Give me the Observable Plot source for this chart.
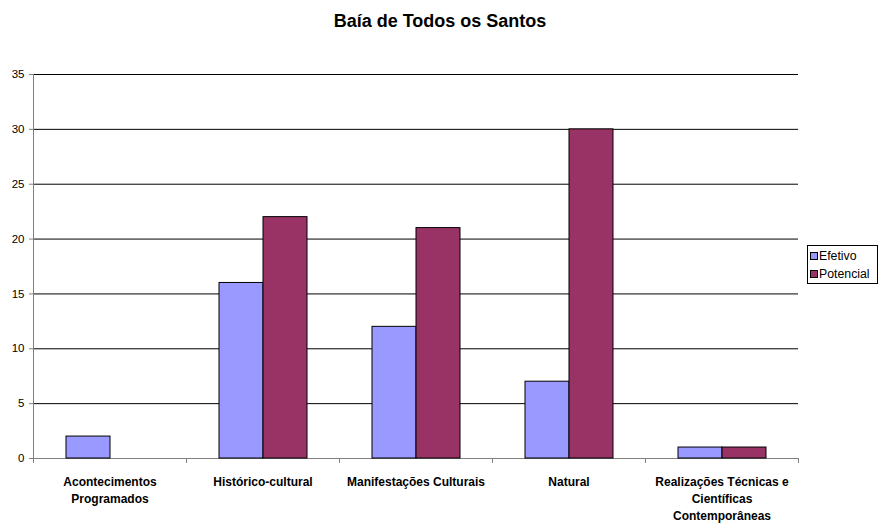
<!DOCTYPE html>
<html>
<head>
<meta charset="utf-8">
<script src="https://cdn.jsdelivr.net/npm/d3@7"></script>
<script src="https://cdn.jsdelivr.net/npm/@observablehq/plot@0.6"></script>
<style>
  body { margin: 0; background: #fff; }
  #wrap { position: relative; width: 880px; height: 523px; font-family: "Liberation Sans", Arial, sans-serif; }
  #title { height: 48px; padding-top: 12px; line-height: 18px; font-size: 18px; font-weight: bold; text-align: center; color: #000; }
  #legend { position: absolute; left: 807px; top: 245px; width: 69px; height: 37px; border: 1px solid #000; background: #fff; font-size: 12.3px; }
  .item { position: absolute; left: 2px; height: 14px; line-height: 14px; white-space: nowrap; }
  .sw { position: absolute; left: 0; top: 3.5px; width: 6px; height: 6px; border: 1px solid #000; }
  .lab { position: absolute; left: 9px; top: 0; }
  g[aria-label^="y-axis"] line, g[aria-label^="y-axis"] path { stroke: #808080; }
</style>
</head>
<body>
<div id="wrap">
  <div id="title">Baía de Todos os Santos</div>
  <div id="chart"></div>
  <div id="legend"></div>
</div>
<script>
const categories = ["Acontecimentos Programados", "Histórico-cultural", "Manifestações Culturais", "Natural", "Realizações Técnicas e Científicas Contemporâneas"];
const xLabels = ["Acontecimentos\nProgramados", "Histórico-cultural", "Manifestações Culturais", "Natural", "Realizações Técnicas e\nCientíficas\nContemporâneas"];
const seriesNames = ["Efetivo", "Potencial"];
const efetivo = [2, 16, 12, 7, 1];
const potencial = [0, 22, 21, 30, 1];
const yTicks = [0, 5, 10, 15, 20, 25, 30, 35];
const colors = ["#9999FF", "#993366"];

const W = 880, H = 463, mL = 33, mR = 82, mT = 14, mB = 65;
const band = (W - mL - mR) / categories.length;
const barW = 44;
const outer = Math.round((band - 2 * barW) / 2);

const effRows = categories.map((c, i) => ({category: c, value: efetivo[i]})).filter(d => d.value > 0);
const potRows = categories.map((c, i) => ({category: c, value: potencial[i]})).filter(d => d.value > 0);

const chart = Plot.plot({
  width: W, height: H,
  marginTop: mT, marginBottom: mB, marginLeft: mL, marginRight: mR,
  style: {fontFamily: "'Liberation Sans', Arial, sans-serif", fontSize: "11.5px", color: "#000", background: "#fff"},
  x: {domain: categories, padding: 0, axis: null},
  y: {domain: [yTicks[0], yTicks[yTicks.length - 1]], ticks: yTicks.length - 1, tickSize: 4, tickPadding: 5, label: null},
  marks: [
    Plot.ruleY(yTicks.filter(v => v > 0), {stroke: "#000", strokeWidth: 1}),
    Plot.ruleY([0], {stroke: "#808080"}),
    Plot.ruleX([categories[0]], {x: d => d, y1: yTicks[0], y2: yTicks[yTicks.length - 1], dx: -band / 2, stroke: "#808080"}),
    Plot.ruleX(categories, {x: d => d, y1: 0, y2: -0.45, dx: -band / 2, stroke: "#808080"}),
    Plot.ruleX([categories[categories.length - 1]], {x: d => d, y1: 0, y2: -0.45, dx: band / 2, stroke: "#808080"}),
    Plot.barY(effRows, {x: "category", y: "value", fill: colors[0], stroke: "#000", insetLeft: outer, insetRight: band - outer - barW}),
    Plot.barY(potRows, {x: "category", y: "value", fill: colors[1], stroke: "#000", insetLeft: outer + barW, insetRight: band - outer - 2 * barW}),
    Plot.text(categories, {x: d => d, y: d => 0, text: (d, i) => xLabels[i], lineAnchor: "top", dy: 16, fontSize: 12, fontWeight: "bold", lineHeight: 1.4, fill: "#000"})
  ]
});
document.getElementById("chart").appendChild(chart);

const legend = document.getElementById("legend");
seriesNames.forEach((name, i) => {
  const item = document.createElement("div");
  item.className = "item";
  item.style.top = (2.5 + i * 18) + "px";
  const sw = document.createElement("div");
  sw.className = "sw";
  sw.style.background = colors[i];
  const lab = document.createElement("div");
  lab.className = "lab";
  lab.textContent = name;
  item.appendChild(sw);
  item.appendChild(lab);
  legend.appendChild(item);
});
</script>
</body>
</html>
